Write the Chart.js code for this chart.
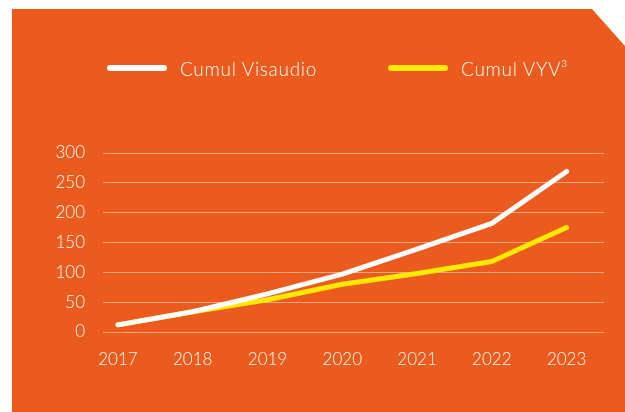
<!DOCTYPE html>
<html>
<head>
<meta charset="utf-8">
<script src="https://cdn.jsdelivr.net/npm/chart.js@4.4.0/dist/chart.umd.min.js"></script>
<style>
  html, body { margin: 0; padding: 0; background: #ffffff; }
  #wrap { position: relative; width: 625px; height: 412px; overflow: hidden; }
  #bg {
    position: absolute; left: 0; top: 0; width: 625px; height: 412px;
    background: #EB5B1E;
    clip-path: polygon(12px 9px, 592px 9px, 625px 46px, 625px 412px, 12px 412px);
  }
  #chart { position: absolute; left: 0; top: 0; }
  #legend {
    position: absolute; left: 107px; top: 56px; height: 24px; width: 600px;
    display: flex; align-items: center; white-space: nowrap;
    font-family: Lato, "Open Sans", sans-serif; font-weight: 300;
    font-size: 19px; letter-spacing: 0.7px; color: #ffffff;
  }
  #legend .item { display: flex; align-items: center; flex-shrink: 0; margin-right: 71px; }
  #legend .line { flex-shrink: 0; width: 60px; height: 6px; border-radius: 3px; margin-right: 13px; }
</style>
</head>
<body>
<div id="wrap">
  <div id="bg"></div>
  <canvas id="chart" width="625" height="412"></canvas>
  <div id="legend"></div>
</div>
<script>
// Data
const years = [2017, 2018, 2019, 2020, 2021, 2022, 2023];
const visaudio = [12, 34, 64, 97, 139, 182, 269];
const vyv = [12, 34, 54, 80, 98, 118, 175];
const yTicks = [0, 50, 100, 150, 200, 250, 300];

const textColor = '#ffffff';
const gridColor = 'rgba(255, 255, 255, 0.45)';
const fontFamily = 'Lato, "Open Sans", sans-serif';

// Legend built from the chart's own legend items
const htmlLegend = {
  id: 'htmlLegend',
  afterUpdate(chart) {
    const box = document.getElementById('legend');
    box.innerHTML = '';
    const items = chart.options.plugins.legend.labels.generateLabels(chart);
    items.forEach(item => {
      const el = document.createElement('div');
      el.className = 'item';
      const line = document.createElement('span');
      line.className = 'line';
      line.style.background = item.strokeStyle;
      const txt = document.createElement('span');
      txt.textContent = item.text;
      el.appendChild(line);
      el.appendChild(txt);
      box.appendChild(el);
    });
  }
};

const ctx = document.getElementById('chart').getContext('2d');

new Chart(ctx, {
  type: 'line',
  data: {
    datasets: [
      {
        label: 'Cumul Visaudio',
        data: years.map((y, i) => ({ x: y, y: visaudio[i] })),
        borderColor: '#ffffff',
        backgroundColor: '#ffffff',
        borderWidth: 5,
        borderCapStyle: 'round',
        borderJoinStyle: 'round',
        pointRadius: 0,
        tension: 0
      },
      {
        label: 'Cumul VYV³',
        data: years.map((y, i) => ({ x: y, y: vyv[i] })),
        borderColor: '#FFE900',
        backgroundColor: '#FFE900',
        borderWidth: 5,
        borderCapStyle: 'round',
        borderJoinStyle: 'round',
        pointRadius: 0,
        tension: 0
      }
    ]
  },
  plugins: [htmlLegend],
  options: {
    responsive: false,
    animation: false,
    layout: {
      padding: { left: 0, right: 21, top: 153, bottom: 0 }
    },
    plugins: {
      tooltip: { enabled: false },
      legend: { display: false }
    },
    scales: {
      x: {
        type: 'linear',
        min: 2016.8,
        max: 2023.5,
        afterBuildTicks: (scale) => {
          scale.ticks = years.map(v => ({ value: v }));
        },
        afterFit: (scale) => { scale.height = 80; },
        grid: { display: false },
        border: { display: false },
        ticks: {
          color: textColor,
          padding: 9,
          maxRotation: 0,
          font: { family: fontFamily, size: 17, weight: 300 },
          callback: (v) => String(v)
        }
      },
      y: {
        min: 0,
        max: 300,
        afterBuildTicks: (scale) => {
          scale.ticks = yTicks.map(v => ({ value: v }));
        },
        afterFit: (scale) => { scale.width = 103; },
        grid: { color: gridColor, lineWidth: 1, drawTicks: false },
        border: { display: false },
        ticks: {
          color: textColor,
          padding: 18,
          font: { family: fontFamily, size: 17, weight: 300 }
        }
      }
    }
  }
});
</script>
</body>
</html>
